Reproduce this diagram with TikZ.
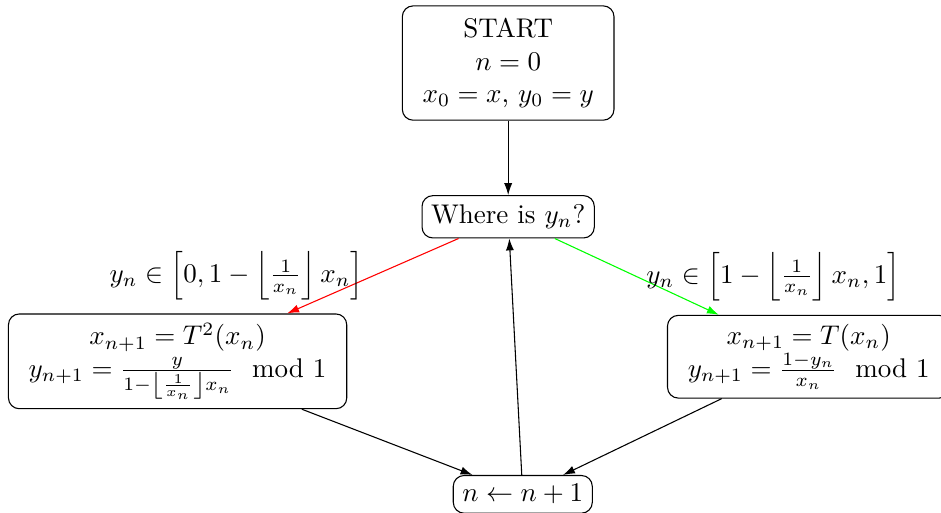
\documentclass[tikz,border=0pt]{standalone}
\usepackage{amsmath}
\usepackage{tikz}
\usetikzlibrary{arrows.meta}

\tikzset{
  block/.style={draw,rounded corners=4pt,align=center,inner xsep=7.5pt},
  smallblock/.style={draw,rounded corners=4pt,align=center},
  flow/.style={-{Latex[length=4.4pt,width=3pt]}}
}

\begin{document}
\begin{tikzpicture}
    \useasboundingbox (0,0) rectangle (12.24,-6.67);
    % nodes
    \node[block,inner ysep=4.6pt] (start) at (6.61,-0.82)
      {START\\ $n=0$\\ $x_0=x$, $y_0=y$};
    \node[smallblock] (where) at (6.61,-2.82) {Where is $y_n$?};
    \node[block] (left) at (2.31,-4.70)
      {$x_{n+1}=T^2(x_n)$\\
       $y_{n+1}=\frac{y}{1-\left\lfloor\frac{1}{x_n}\right\rfloor x_n}\mod 1$};
    \node[block] (right) at (10.52,-4.64)
      {$x_{n+1}=T(x_n)$\\
       $y_{n+1}=\frac{1-y_n}{x_n}\mod 1$};
    \node[smallblock] (incr) at (6.80,-6.43) {$n\leftarrow n+1$};
    % connectors
    \draw[flow] (start) -- (where);
    \draw[flow,color=red] (where) -- (left)
      node[midway,left,text=black]
      {$y_n\in\left[0,1-\left\lfloor\frac{1}{x_n}\right\rfloor x_n\right]$};
    \draw[flow,color=green] (where) -- (right)
      node[midway,right,text=black]
      {$y_n\in\left[1-\left\lfloor\frac{1}{x_n}\right\rfloor x_n,1\right]$};
    \draw[flow] (left) -- (incr);
    \draw[flow] (right) -- (incr);
    \draw[flow] (incr) -- (where);
\end{tikzpicture}
\end{document}
